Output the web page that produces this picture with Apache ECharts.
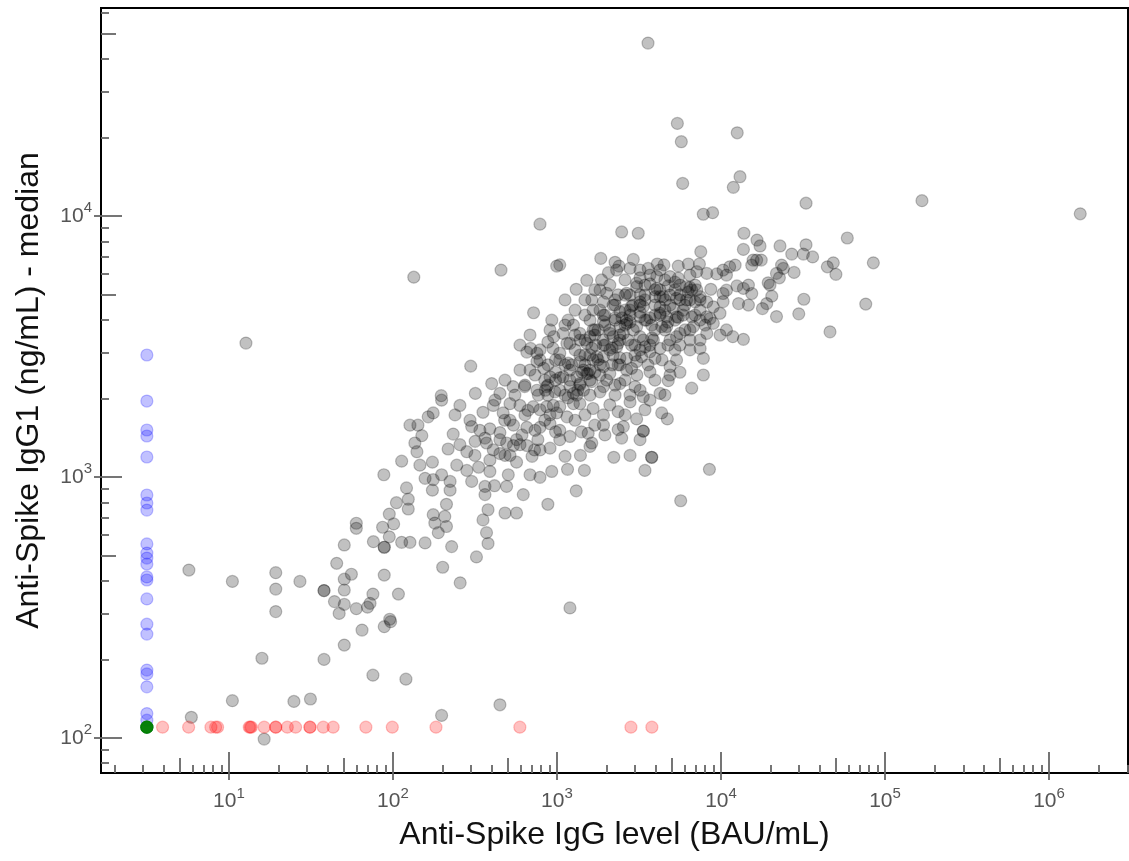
<!DOCTYPE html>
<html>
<head>
<meta charset="utf-8">
<script src="https://cdn.jsdelivr.net/npm/echarts@6/dist/echarts.min.js"></script>
<style>
  html, body { margin: 0; padding: 0; background: #fff; }
  #chart { width: 1129px; height: 861px; }
</style>
</head>
<body>
<div id="chart"></div>
<script>
// axis limits
const xRange = [1.66, 3.03e6]
const yRange = [73.4, 62700]
const xDecades = [10, 100, 1000, 10000, 100000, 1000000]
const yDecades = [100, 1000, 10000]

// anti-spike IgG level (BAU/mL), IgG1 median (ng/mL) - detected samples
const grayPoints = [
  // high outliers
  [3590, 46000], [5420, 22650], [5730, 19270], [12560, 20850], [5840, 13340], [13060, 14150], [11890, 12880],
  [7800, 10160], [8890, 10300], [788, 9310], [2480, 8690], [3130, 8590], [13800, 8590], [16580, 8090],
  [168000, 11450], [1550000, 10200], [84900, 6620], [76300, 4600],
  // upper right arm
  [33000, 11200], [17300, 7680], [13700, 7450], [22900, 7680], [33000, 7760], [58900, 8240], [27000, 7150],
  [31800, 7150], [36200, 6970], [48400, 6620], [44500, 6390], [50200, 5980], [15700, 6780], [15400, 6480],
  [17600, 6780], [23400, 6490], [24000, 6300], [27900, 6080], [21800, 6030], [22700, 5800], [19400, 5550],
  [19900, 5440], [20400, 4930], [19000, 4620], [17900, 4420], [32000, 4800], [29800, 4220], [21800, 4120],
  [46200, 3600], [14700, 4560], [12800, 4620], [15400, 5050], [14700, 5440], [13700, 5280], [12500, 5400],
  [10800, 5200], [10300, 5050], [10300, 4700], [9860, 4240], [10800, 3660], [11800, 3450], [13700, 3370],
  [10300, 6210], [11300, 6390], [12200, 6490], [10800, 5940], [16500, 6780],
  // main cluster
  [7530, 7300], [1850, 6880], [2920, 6820], [1040, 6500], [2390, 6430], [2310, 6210], [2060, 6070], [3210, 6210],
  [3600, 6300], [4090, 6550], [4490, 6500], [5490, 6430], [6320, 6550], [7390, 6550], [7120, 6120], [8190, 6030],
  [9420, 6000], [4890, 5860], [5490, 5780], [1520, 5670], [1310, 5240], [1870, 5690], [3060, 5530], [3690, 5500],
  [4060, 5280], [4770, 5400], [5620, 5440], [6470, 5330], [7120, 5210], [8670, 5240], [1830, 5210], [2010, 5060],
  [2360, 4990], [2660, 5060], [3210, 4990], [3960, 4910], [4450, 4910], [5360, 4840], [6170, 4770], [6950, 4690],
  [8190, 4690], [1630, 4770], [1920, 4690], [2200, 4560], [2850, 4520], [3360, 4490], [4250, 4490], [5120, 4430],
  [5890, 4360], [7460, 4360], [8980, 4490], [1660, 4360], [1480, 4170], [2420, 4300], [2790, 4170], [3210, 4110],
  [3960, 4170], [4670, 4110], [5490, 4090], [6630, 4110], [8580, 4050], [8980, 3880], [1170, 3990], [1260, 3820],
  [1920, 3940], [2260, 3990], [2660, 3880], [3060, 3770], [3780, 3820], [4350, 3770], [6030, 3660], [8190, 3550],
  [9870, 3500], [1090, 3550], [1380, 3550], [1660, 3660], [2100, 3550], [2540, 3550], [3210, 3450], [3870, 3350],
  [4890, 3350], [5360, 3450], [7460, 3350], [6470, 3070], [7460, 3110], [1200, 3250], [1520, 3250], [1920, 3200],
  [2310, 3150], [2850, 3200], [3440, 3150], [4250, 3110], [5240, 3070], [1040, 2980], [1380, 2930], [1750, 2890],
  [2200, 2930], [2660, 2850], [3280, 2890], [3960, 2850], [5360, 2810], [7810, 2850], [4890, 2650], [1170, 2730],
  [1480, 2690], [1920, 2650], [2360, 2690], [2850, 2610], [3690, 2530], [7810, 2460], [6630, 2190], [4250, 2090],
  [4770, 2340], [2990, 2220], [2420, 2280], [2010, 2350], [1550, 2490], [1320, 2420], [1090, 2420], [1200, 2220],
  [1450, 2150], [1830, 2120], [2260, 2060], [3360, 2030], [1320, 2060],
  [2790, 4360], [3210, 4560], [2600, 3820], [3440, 3990], [4250, 4170], [4560, 4770], [3960, 5210], [4890, 4560],
  [5620, 4990], [6470, 4770], [1480, 3350], [1720, 3200], [1590, 2930], [1450, 2570], [1590, 2350], [1380, 2250],
  [3690, 3200], [2420, 3350], [2100, 3070], [2990, 2930], [4560, 3660], [5240, 3990], [7460, 3990], [6470, 3660],
  [1830, 2690], [1200, 2570], [980, 2350], [850, 2150], [788, 2810], [907, 3660],
  // darker overlaps in the core
  [3060, 5360], [2600, 4360], [2660, 3990], [4250, 4910], [4250, 4240], [4670, 3770], [1590, 3450], [1520, 2490],
  [1380, 2280], [1260, 2090], [2200, 3450], [2360, 3250], [2920, 3660], [6170, 5360], [6630, 5210], [5360, 4110],
  [4060, 5860], [3210, 4690], [1920, 4170], [1780, 3660], [1150, 3250], [1660, 2810], [1920, 2890], [3360, 3350],
  [3690, 3020], [5620, 3550], [6790, 3770], [8190, 4110], [7460, 4910], [3520, 3990], [2420, 3770], [3060, 2770],
  [2660, 2570], [2100, 2490], [1920, 2220], [1630, 2320],
  [950, 1880], [843, 1650], [980, 1490], [730, 1270], [612, 1450], [480, 1650], [665, 1800], [880, 2060],
  [543, 1320], [364, 1410], [880, 3290], [980, 2520], [843, 2350], [770, 2060], [1040, 2810], [930, 3990],
  [1120, 4770], [1290, 4360], [1480, 4770], [1700, 5210], [2100, 5440], [2600, 5690], [3210, 5800], [2260, 6650],
  [2790, 6310], [3690, 5940], [4550, 5690], [5240, 5210], [6030, 4560], [6950, 4170], [8000, 3820], [3440, 4980],
  [2790, 4980], [2260, 4770], [1830, 4360], [1590, 3990], [1290, 3500], [1120, 3820], [1960, 3820], [2260, 4070],
  [2710, 3350], [3210, 3070], [3960, 3660], [4750, 3200], [5620, 3200], [6470, 3350], [4370, 2810], [3590, 2690],
  [3070, 2460], [2420, 2860], [1960, 3200], [1700, 3500], [1290, 3070], [1120, 2690], [1380, 2760], [1700, 2520],
  [2170, 2690], [2600, 2350], [3210, 2150], [3960, 2350], [4890, 2460], [5620, 2520], [1040, 2150], [1170, 2010],
  [1590, 2060], [2260, 2250], [2790, 2060], [3690, 1970], [4550, 2060], [2100, 1890], [2600, 1730], [1480, 1730],
  [1290, 1650], [1700, 1580], [3210, 1390], [2790, 1210],
  [595, 3200], [685, 3500], [788, 3070], [881, 2690], [735, 2460], [638, 2250], [554, 2060], [482, 2350],
  [419, 1970], [517, 1650], [638, 1730], [788, 1810], [907, 1730], [735, 1510], [595, 1330], [482, 1210],
  [390, 1160], [316, 1210], [256, 1330], [295, 1650], [239, 1730], [449, 1390],
  // diagonal ridge of the cluster
  [881, 2250], [972, 2120], [1040, 2400], [1200, 2350], [1230, 2690], [1420, 2520], [1480, 2930], [1630, 3120],
  [1780, 2810], [1910, 3350], [2100, 3660], [2170, 3120], [2420, 3500], [2490, 4070], [2790, 3920], [2910, 4560],
  [3210, 4280], [3440, 4770], [3690, 4070], [3960, 4560], [4250, 5210], [4550, 4360], [4890, 4980], [5240, 5580],
  [5620, 4770], [6300, 5110], [6950, 5440], [7460, 4770], [1590, 2570], [1340, 2150], [1120, 2060], [1830, 2460],
  [2420, 2690], [2990, 3200], [3800, 3410], [4750, 3920], [5870, 4170], [2260, 4560], [2600, 4980], [1960, 4170],
  [1700, 3660], [1380, 3350], [3440, 5440], [4250, 6210], [6470, 5940],
  // left shoulder of the cluster
  [134, 5830], [456, 6210], [996, 6430], [720, 4260], [298, 2660], [400, 2280], [197, 2050], [318, 2090],
  [540, 2220], [449, 2090], [595, 2570], [685, 2570], [655, 3010], [690, 3110], [755, 2980], [755, 2770],
  [830, 2610], [955, 3450], [945, 3110], [980, 2810], [635, 2220], [755, 2150], [865, 2220], [907, 2420],
  // lower part of the cluster
  [1260, 1910], [1040, 1860], [1660, 1830], [1920, 1730], [2360, 1780], [2790, 1940], [3440, 1810], [4350, 1760],
  [4710, 1670], [3060, 1670], [3360, 1500], [3360, 1500], [2540, 1560], [2360, 1520], [1920, 1580], [1960, 1450],
  [2480, 1410], [1410, 1490], [1550, 1470], [1200, 1430], [1040, 1510], [1590, 1310], [1630, 1350], [1120, 1200],
  [1390, 1210], [2220, 1190], [3780, 1190], [3780, 1190], [1160, 1070], [1470, 1060], [3440, 1060], [8500, 1070],
  [1310, 885], [5680, 811], [1380, 1910], [1150, 1700],
  [198, 1970], [256, 1880], [354, 1770], [409, 1880], [470, 1760], [176, 1760], [164, 1700], [127, 1580],
  [142, 1580], [233, 1460], [302, 1560], [339, 1510], [390, 1530], [449, 1480], [543, 1580], [655, 1550],
  [788, 1550], [907, 1600], [595, 1880], [717, 1860], [865, 1860], [996, 1760], [517, 1910], [150, 1440],
  [136, 1350], [140, 1250], [217, 1280], [282, 1250], [317, 1370], [372, 1350], [409, 1270], [493, 1350],
  [567, 1390], [655, 1320], [765, 1390], [907, 1290], [1040, 1390], [449, 1230], [517, 1210], [705, 1200],
  [788, 1270], [113, 1150], [146, 1110], [174, 1140], [245, 1110], [282, 1060], [333, 1090], [390, 1050],
  [505, 1020], [567, 1140], [685, 1020], [788, 997], [929, 1050], [157, 988], [176, 977], [198, 1020],
  [223, 962], [302, 962], [364, 920], [416, 926], [493, 920], [121, 908], [174, 890], [223, 890],
  [364, 856], [623, 856], [880, 786], [124, 822], [124, 754], [212, 786], [176, 717], [207, 706],
  [180, 666], [212, 646], [189, 612], [380, 749], [482, 728], [567, 728], [354, 685], [372, 612],
  [380, 556], [113, 562], [127, 562], [157, 559], [228, 541], [323, 494], [257, 393], [1200, 315],
  [449, 134], [201, 451],
  // low tail
  [88, 1020], [105, 797], [95, 721], [101, 661], [86.5, 642], [95, 590], [88.5, 538], [88.5, 538],
  [76, 565], [59.8, 665], [59.8, 636], [50.5, 549], [45.4, 467], [55.8, 424], [50.5, 406], [50.5, 369],
  [38, 367], [38, 367], [44, 333], [50.5, 325], [47, 300], [59.8, 313], [70, 317], [72.5, 328],
  [75.5, 356], [88.5, 421], [108, 356], [19.3, 430], [27.1, 398], [19.3, 372], [19.3, 305], [95.6, 285],
  [5.7, 440], [10.5, 398], [64.8, 259], [88.5, 267], [96.8, 279], [50.5, 227], [15.9, 202], [38, 200],
  [75.5, 174], [120, 168], [10.5, 139], [24.9, 138], [31.4, 141], [5.9, 120], [198, 122], [16.4, 99],
  [12.7, 3260]
]

// IgG below range (plotted at the left floor)
const bluePoints = [
  [3.16, 2934], [3.16, 1955], [3.16, 1514], [3.16, 1436], [3.16, 1193], [3.16, 853], [3.16, 795], [3.16, 747],
  [3.16, 554], [3.16, 511], [3.16, 489], [3.16, 464], [3.16, 414], [3.16, 403], [3.16, 341], [3.16, 273],
  [3.16, 250], [3.16, 182], [3.16, 176], [3.16, 157], [3.16, 124], [3.16, 117], [3.16, 110]
]

// IgG1 below range (plotted at the bottom floor)
const redPoints = [
  [3.94, 110], [5.68, 110], [7.77, 110], [8.3, 110], [8.53, 110], [13.3, 110], [13.5, 110], [13.7, 110],
  [16.4, 110], [19.3, 110], [19.3, 110], [22.7, 110], [25.5, 110], [31.2, 110], [31.2, 110], [37.6, 110],
  [43.2, 110], [68.4, 110], [99.1, 110], [183, 110], [594, 110], [2825, 110], [3790, 110]
]

// both below range
const greenPoints = [[3.16, 110], [3.16, 110]]

const font = 'Liberation Sans'
const tickColor = '#666'

function ticksAt(lo, hi, mults) {
  const out = []
  for (let d = 1; d <= 1e6; d *= 10) {
    mults.forEach(m => {
      const v = m * d
      if (v > lo && v < hi) out.push(v)
    })
  }
  return out
}

const supLabel = v => '{b|10}{s|' + Math.round(Math.log10(v)) + '}'
const labelRich = {
  b: { fontSize: 21, color: '#555', lineHeight: 31, fontFamily: font },
  s: { fontSize: 15, color: '#555', lineHeight: 16, verticalAlign: 'top', fontFamily: font }
}

// extra axes that only draw one kind of tick
function tickAxis(range, pos, values, len, inside) {
  return {
    type: 'log', logBase: 10, min: range[0], max: range[1], position: pos,
    axisLine: { show: false },
    splitLine: { show: false },
    axisLabel: { show: false },
    axisTick: { show: true, inside: inside, length: len, customValues: values,
      lineStyle: { color: tickColor, width: 1.8 } }
  }
}

const xMinor = ticksAt(xRange[0], xRange[1], [2, 3, 4, 6, 7, 8, 9])
const xMid = ticksAt(xRange[0], xRange[1], [5])
const yMinor = ticksAt(yRange[0], yRange[1], [2, 3, 4, 6, 7, 8, 9])
const yMid = ticksAt(yRange[0], yRange[1], [5])

const dot = (color, border) => ({ color: color, borderColor: border, borderWidth: 1.2 })

const option = {
  animation: false,
  grid: {
    left: 101, right: 1, top: 8, bottom: 88,
    show: true, borderColor: '#000', borderWidth: 2,
    containLabel: false, outerBoundsMode: 'none'
  },
  xAxis: [
    {
      type: 'log', logBase: 10, min: xRange[0], max: xRange[1], position: 'bottom',
      name: 'Anti-Spike IgG level (BAU/mL)', nameLocation: 'middle', nameGap: 46,
      nameTextStyle: { fontSize: 32, color: '#111', fontFamily: font },
      axisLine: { show: true, lineStyle: { color: '#000', width: 2 } },
      splitLine: { show: false },
      axisTick: { show: true, inside: true, length: 21, customValues: xDecades,
        lineStyle: { color: tickColor, width: 1.8 } },
      axisLabel: { show: true, margin: 13, customValues: xDecades, formatter: supLabel, rich: labelRich }
    },
    tickAxis(xRange, 'bottom', xDecades, 7, false),
    tickAxis(xRange, 'bottom', xMid, 15, true),
    tickAxis(xRange, 'bottom', xMinor, 8, true)
  ],
  yAxis: [
    {
      type: 'log', logBase: 10, min: yRange[0], max: yRange[1], position: 'left',
      name: 'Anti-Spike IgG1 (ng/mL) - median', nameLocation: 'middle', nameGap: 56, nameRotate: 90,
      nameTextStyle: { fontSize: 32, color: '#111', fontFamily: font },
      axisLine: { show: true, lineStyle: { color: '#000', width: 2 } },
      splitLine: { show: false },
      axisTick: { show: true, inside: true, length: 21, customValues: yDecades,
        lineStyle: { color: tickColor, width: 1.8 } },
      axisLabel: { show: true, margin: 9, customValues: yDecades, formatter: supLabel, rich: labelRich }
    },
    tickAxis(yRange, 'left', yDecades, 7, false),
    tickAxis(yRange, 'left', yMid, 15, true),
    tickAxis(yRange, 'left', yMinor, 8, true)
  ],
  series: [
    { type: 'scatter', data: grayPoints, symbolSize: 12, itemStyle: dot('rgba(0,0,0,0.3)', 'rgba(0,0,0,0.3)') },
    { type: 'scatter', data: bluePoints, symbolSize: 12, itemStyle: dot('rgba(0,0,255,0.3)', 'rgba(0,0,255,0.3)') },
    { type: 'scatter', data: redPoints, symbolSize: 12, itemStyle: dot('rgba(255,0,0,0.3)', 'rgba(255,0,0,0.3)') },
    { type: 'scatter', data: greenPoints, symbolSize: 12, itemStyle: dot('#008000', '#008000') }
  ]
}

const myChart = echarts.init(document.getElementById('chart'))
myChart.setOption(option, true)
</script>
</body>
</html>
